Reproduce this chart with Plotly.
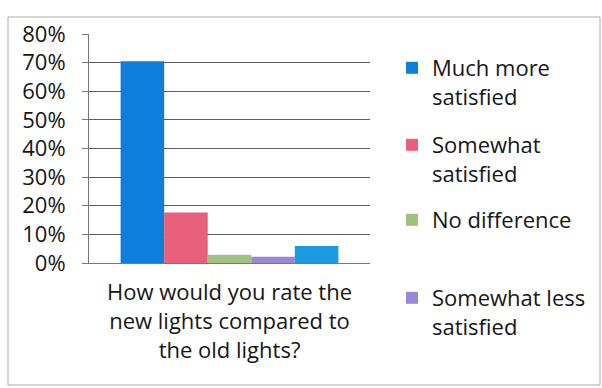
import plotly.graph_objects as go

category = ["How would you rate the<br>new lights compared to<br>the old lights?"]
series_names = ["Much more<br>satisfied", "Somewhat<br>satisfied", "No difference",
                "Somewhat less<br>satisfied", "Much less satisfied"]
values = [0.705, 0.176, 0.029, 0.022, 0.059]
colors = ["#0d7fda", "#e8607a", "#9fc27e", "#9a88d6", "#1b9ae0"]
in_legend = [True, True, True, True, False]
y_ticks = [0, 0.1, 0.2, 0.3, 0.4, 0.5, 0.6, 0.7, 0.8]

W, H = 602, 388
FONT = "Open Sans"
FS = 22
legend_tops = [47, 124, 199, 277]  # pixel tops of the legend entries

fig = go.Figure()
legend_ids = ["legend", "legend2", "legend3", "legend4"]
li = 0
for name, v, c, show in zip(series_names, values, colors, in_legend):
    kw = {}
    if show:
        kw["legend"] = legend_ids[li]
        li += 1
    fig.add_trace(go.Bar(x=category, y=[v], name=name, marker_color=c,
                         marker_line_width=0, showlegend=show, **kw))

layout_legends = {}
for i, lid in enumerate(legend_ids):
    layout_legends[lid] = dict(
        xref="container", yref="container",
        x=392 / W, y=1 - legend_tops[i] / H, xanchor="left", yanchor="top",
        valign="top",
        font=dict(family=FONT, size=FS, color="#161616"),
        bgcolor="rgba(0,0,0,0)", borderwidth=0,
    )

fig.update_layout(
    width=W, height=H,
    margin=dict(l=89, r=232, t=34, b=125),
    paper_bgcolor="white", plot_bgcolor="white",
    barmode="group", bargap=0.225, bargroupgap=0,
    font=dict(family=FONT, size=FS, color="#161616"),
    **layout_legends,
    xaxis=dict(showline=True, linecolor="#777", linewidth=1, ticks="",
               tickfont=dict(family=FONT, size=FS, color="#161616"),
               ticklabelstandoff=10,
               showgrid=False, fixedrange=True),
    yaxis=dict(range=[0, 0.8], tickvals=y_ticks, tickformat=".0%",
               showline=True, linecolor="#777", linewidth=1,
               ticks="outside", ticklen=6, tickcolor="#777",
               gridcolor="#5e5e5e", gridwidth=1, zeroline=False,
               tickfont=dict(family=FONT, size=FS, color="#161616"),
               ticklabelstandoff=12),
    shapes=[dict(type="rect", xref="paper", yref="paper",
                 x0=-81 / 281, x1=(600 - 89) / 281, y0=-(385 - 263) / 229,
                 y1=1 + 17 / 229, line=dict(color="#aaa", width=1))],
)

fig.write_html("out.html")
